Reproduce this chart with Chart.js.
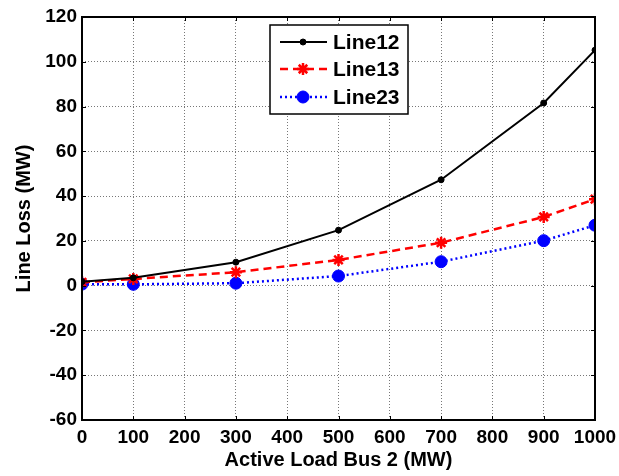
<!DOCTYPE html>
<html>
<head>
<meta charset="utf-8">
<script src="https://cdn.jsdelivr.net/npm/chart.js@4/dist/chart.umd.min.js"></script>
<style>
  body { margin: 0; background: #fff; }
  canvas { display: block; }
</style>
</head>
<body>
<canvas id="myChart" width="619" height="476"></canvas>
<script>
// data
const loads = [0, 100, 300, 500, 700, 900, 1000];
const line12 = [1.8, 3.5, 10.5, 24.8, 47.3, 81.6, 105.2];
const line13 = [1.5, 3.0, 6.0, 11.5, 19.2, 30.7, 38.6];
const line23 = [0.7, 0.6, 1.1, 4.3, 10.7, 20.1, 27.0];
const seriesNames = ['Line12', 'Line13', 'Line23'];

const FONT = "'Liberation Sans', Arial, sans-serif";

function pts(ys) {
  return loads.map((x, i) => ({ x: x, y: ys[i] }));
}

// box round the plot, small inward ticks, and the legend
const framePlugin = {
  id: 'frame',
  afterDatasetsDraw(chart) {
    const ctx = chart.ctx;
    const a = chart.chartArea;
    const xs = chart.scales.x, ys = chart.scales.y;
    ctx.save();
    ctx.strokeStyle = '#000';
    ctx.lineWidth = 1;
    ctx.beginPath();
    xs.ticks.forEach(t => {
      const px = Math.round(xs.getPixelForValue(t.value)) + 0.5;
      ctx.moveTo(px, a.bottom); ctx.lineTo(px, a.bottom - 4);
      ctx.moveTo(px, a.top); ctx.lineTo(px, a.top + 4);
    });
    ys.ticks.forEach(t => {
      const py = Math.round(ys.getPixelForValue(t.value)) + 0.5;
      ctx.moveTo(a.left, py); ctx.lineTo(a.left + 4, py);
      ctx.moveTo(a.right, py); ctx.lineTo(a.right - 4, py);
    });
    ctx.stroke();
    ctx.lineWidth = 2;
    ctx.strokeRect(a.left, a.top, a.right - a.left, a.bottom - a.top);

    // legend
    const bx = 270, by = 25, bw = 138, bh = 89;
    ctx.fillStyle = '#fff';
    ctx.fillRect(bx, by, bw, bh);
    ctx.lineWidth = 1.5;
    ctx.strokeRect(bx, by, bw, bh);
    const rows = [42, 69, 97];
    chart.data.datasets.forEach((ds, i) => {
      const y = rows[i];
      ctx.save();
      ctx.strokeStyle = ds.borderColor;
      ctx.lineWidth = ds.borderWidth;
      ctx.setLineDash(ds.borderDash || []);
      ctx.beginPath();
      ctx.moveTo(280, y); ctx.lineTo(327, y);
      ctx.stroke();
      ctx.restore();
      ctx.save();
      ctx.fillStyle = ds.pointBackgroundColor;
      ctx.strokeStyle = ds.pointBorderColor;
      ctx.lineWidth = ds.pointBorderWidth;
      Chart.helpers.drawPoint(ctx, {
        pointStyle: ds.pointStyle,
        radius: ds.pointRadius,
        borderWidth: ds.pointBorderWidth
      }, 303, y);
      ctx.restore();
      ctx.fillStyle = '#000';
      ctx.font = 'bold 21px ' + FONT;
      ctx.textBaseline = 'middle';
      ctx.textAlign = 'left';
      ctx.fillText(seriesNames[i], 333, y + 1);
    });
    ctx.restore();
  }
};

const ctx = document.getElementById('myChart').getContext('2d');
const myChart = new Chart(ctx, {
  type: 'line',
  data: {
    datasets: [
      {
        label: seriesNames[0],
        data: pts(line12),
        borderColor: '#000000',
        backgroundColor: '#000000',
        borderWidth: 2,
        pointStyle: 'circle',
        pointRadius: 3,
        pointBorderWidth: 1,
        pointBackgroundColor: '#000000',
        pointBorderColor: '#000000'
      },
      {
        label: seriesNames[1],
        data: pts(line13),
        borderColor: '#ff0000',
        backgroundColor: '#ff0000',
        borderWidth: 2.5,
        borderDash: [8, 5],
        pointStyle: 'star',
        pointRadius: 6,
        pointBorderWidth: 2.5,
        pointBackgroundColor: '#ff0000',
        pointBorderColor: '#ff0000'
      },
      {
        label: seriesNames[2],
        data: pts(line23),
        borderColor: '#0000ff',
        backgroundColor: '#0000ff',
        borderWidth: 2.5,
        borderDash: [2, 3],
        pointStyle: 'circle',
        pointRadius: 6,
        pointBorderWidth: 1,
        pointBackgroundColor: '#0000ff',
        pointBorderColor: '#0000ff'
      }
    ]
  },
  options: {
    responsive: false,
    animation: false,
    layout: { padding: { top: 17, right: 24, left: 0, bottom: 0 } },
    plugins: {
      legend: { display: false },
      tooltip: { enabled: false }
    },
    elements: { line: { tension: 0 } },
    scales: {
      x: {
        type: 'linear',
        min: 0, max: 1000,
        afterFit: (s) => { s.height = 56; s.paddingRight = 0; s.paddingLeft = 0; },
        ticks: {
          stepSize: 100,
          padding: 6,
          autoSkip: false,
          maxRotation: 0,
          minRotation: 0,
          callback: (v) => String(v),
          color: '#000',
          font: { family: FONT, size: 19, weight: 'bold' }
        },
        grid: {
          color: '#777',
          lineWidth: 1,
          drawTicks: false
        },
        border: { display: false, dash: [1, 2] },
        title: {
          display: true,
          text: 'Active Load Bus 2 (MW)',
          color: '#000',
          font: { family: FONT, size: 20, weight: 'bold' },
          padding: { top: 0, bottom: 4 }
        }
      },
      y: {
        min: -60, max: 120,
        afterFit: (s) => { s.width = 82; s.paddingTop = 0; s.paddingBottom = 0; },
        ticks: {
          stepSize: 20,
          padding: 5,
          callback: (v) => String(v),
          color: '#000',
          font: { family: FONT, size: 19, weight: 'bold' }
        },
        grid: {
          color: '#777',
          lineWidth: 1,
          drawTicks: false
        },
        border: { display: false, dash: [1, 2] },
        title: {
          display: true,
          text: 'Line Loss (MW)',
          color: '#000',
          font: { family: FONT, size: 20, weight: 'bold' },
          padding: { top: 12, bottom: 0 }
        }
      }
    }
  },
  plugins: [framePlugin]
});
</script>
</body>
</html>
